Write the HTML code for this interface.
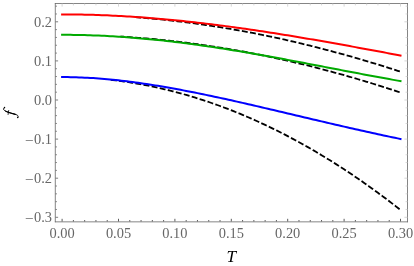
<!DOCTYPE html>
<html><head><meta charset="utf-8"><title>plot</title>
<style>html,body{margin:0;padding:0;background:#fff;}body{width:414px;height:266px;position:relative;overflow:hidden;font-family:"Liberation Serif",serif;}svg{will-change:transform;}svg g.t{filter:grayscale(1);}</style>
</head><body>
<svg width="414" height="266" viewBox="0 0 414 266" style="position:absolute;left:0;top:0">
<rect x="0" y="0" width="414" height="266" fill="#fff"/>
<g fill="none" stroke-width="2" stroke-linecap="square" stroke-linejoin="round">
<path d="M110.04,79.73 L112.86,80.06 L115.68,80.40 L118.50,80.76 L121.32,81.14 L124.14,81.53 L126.96,81.95 L129.78,82.38 L132.60,82.83 L135.42,83.31 L138.24,83.79 L141.06,84.30 L143.88,84.83 L146.70,85.37 L149.52,85.93 L152.34,86.52 L155.16,87.12 L157.98,87.73 L160.80,88.37 L163.62,89.03 L166.44,89.70 L169.26,90.39 L172.08,91.10 L174.90,91.83 L177.72,92.58 L180.54,93.34 L183.36,94.13 L186.18,94.93 L189.00,95.75 L191.82,96.59 L194.64,97.45 L197.46,98.33 L200.28,99.22 L203.10,100.13 L205.92,101.07 L208.74,102.02 L211.56,102.99 L214.38,103.97 L217.20,104.98 L220.02,106.00 L222.84,107.05 L225.66,108.11 L228.48,109.19 L231.30,110.28 L234.12,111.40 L236.94,112.54 L239.76,113.69 L242.58,114.86 L245.40,116.05 L248.22,117.26 L251.04,118.49 L253.86,119.73 L256.68,121.00 L259.50,122.28 L262.32,123.58 L265.14,124.90 L267.96,126.24 L270.78,127.59 L273.60,128.97 L276.42,130.36 L279.24,131.77 L282.06,133.20 L284.88,134.65 L287.70,136.12 L290.52,137.60 L293.34,139.11 L296.16,140.63 L298.98,142.17 L301.80,143.73 L304.62,145.31 L307.44,146.90 L310.26,148.52 L313.08,150.15 L315.90,151.80 L318.72,153.47 L321.54,155.16 L324.36,156.87 L327.18,158.60 L330.00,160.34 L332.82,162.10 L335.64,163.88 L338.46,165.68 L341.28,167.50 L344.10,169.34 L346.92,171.19 L349.74,173.06 L352.56,174.95 L355.38,176.86 L358.20,178.79 L361.02,180.74 L363.84,182.70 L366.66,184.69 L369.48,186.69 L372.30,188.71 L375.12,190.75 L377.94,192.81 L380.76,194.88 L383.58,196.98 L386.40,199.09 L389.22,201.22 L392.04,203.37 L394.86,205.54 L397.68,207.73 L400.50,209.93" stroke="#000" stroke-width="1.8" stroke-dasharray="4.14 4.14" stroke-dashoffset="6.64"/>
<path d="M121.32,36.62 L124.14,36.79 L126.96,36.98 L129.78,37.17 L132.60,37.37 L135.42,37.58 L138.24,37.79 L141.06,38.02 L143.88,38.25 L146.70,38.49 L149.52,38.74 L152.34,39.00 L155.16,39.27 L157.98,39.54 L160.80,39.82 L163.62,40.11 L166.44,40.41 L169.26,40.71 L172.08,41.03 L174.90,41.35 L177.72,41.68 L180.54,42.02 L183.36,42.37 L186.18,42.72 L189.00,43.08 L191.82,43.45 L194.64,43.83 L197.46,44.22 L200.28,44.61 L203.10,45.02 L205.92,45.43 L208.74,45.85 L211.56,46.27 L214.38,46.71 L217.20,47.15 L220.02,47.60 L222.84,48.06 L225.66,48.53 L228.48,49.00 L231.30,49.48 L234.12,49.97 L236.94,50.47 L239.76,50.98 L242.58,51.49 L245.40,52.01 L248.22,52.54 L251.04,53.08 L253.86,53.63 L256.68,54.18 L259.50,54.74 L262.32,55.31 L265.14,55.89 L267.96,56.47 L270.78,57.07 L273.60,57.67 L276.42,58.27 L279.24,58.89 L282.06,59.51 L284.88,60.15 L287.70,60.78 L290.52,61.43 L293.34,62.09 L296.16,62.75 L298.98,63.42 L301.80,64.10 L304.62,64.78 L307.44,65.48 L310.26,66.18 L313.08,66.88 L315.90,67.60 L318.72,68.32 L321.54,69.06 L324.36,69.79 L327.18,70.54 L330.00,71.29 L332.82,72.06 L335.64,72.82 L338.46,73.60 L341.28,74.38 L344.10,75.18 L346.92,75.98 L349.74,76.78 L352.56,77.60 L355.38,78.42 L358.20,79.25 L361.02,80.08 L363.84,80.92 L366.66,81.78 L369.48,82.63 L372.30,83.50 L375.12,84.37 L377.94,85.25 L380.76,86.14 L383.58,87.03 L386.40,87.94 L389.22,88.84 L392.04,89.76 L394.86,90.68 L397.68,91.61 L400.50,92.55" stroke="#000" stroke-width="1.8" stroke-dasharray="4.14 4.14" stroke-dashoffset="1.90"/>
<path d="M135.42,17.17 L138.24,17.39 L141.06,17.61 L143.88,17.85 L146.70,18.09 L149.52,18.34 L152.34,18.60 L155.16,18.87 L157.98,19.14 L160.80,19.42 L163.62,19.71 L166.44,20.01 L169.26,20.32 L172.08,20.64 L174.90,20.96 L177.72,21.29 L180.54,21.63 L183.36,21.98 L186.18,22.33 L189.00,22.70 L191.82,23.07 L194.64,23.45 L197.46,23.83 L200.28,24.23 L203.10,24.63 L205.92,25.04 L208.74,25.46 L211.56,25.89 L214.38,26.33 L217.20,26.77 L220.02,27.22 L222.84,27.68 L225.66,28.14 L228.48,28.62 L231.30,29.10 L234.12,29.59 L236.94,30.09 L239.76,30.59 L242.58,31.11 L245.40,31.63 L248.22,32.16 L251.04,32.69 L253.86,33.24 L256.68,33.79 L259.50,34.35 L262.32,34.92 L265.14,35.49 L267.96,36.08 L270.78,36.67 L273.60,37.26 L276.42,37.87 L279.24,38.48 L282.06,39.10 L284.88,39.73 L287.70,40.37 L290.52,41.01 L293.34,41.66 L296.16,42.32 L298.98,42.98 L301.80,43.65 L304.62,44.33 L307.44,45.02 L310.26,45.72 L313.08,46.42 L315.90,47.13 L318.72,47.84 L321.54,48.57 L324.36,49.30 L327.18,50.04 L330.00,50.78 L332.82,51.54 L335.64,52.30 L338.46,53.06 L341.28,53.84 L344.10,54.62 L346.92,55.41 L349.74,56.20 L352.56,57.00 L355.38,57.81 L358.20,58.63 L361.02,59.45 L363.84,60.28 L366.66,61.12 L369.48,61.96 L372.30,62.81 L375.12,63.67 L377.94,64.53 L380.76,65.40 L383.58,66.28 L386.40,67.16 L389.22,68.05 L392.04,68.95 L394.86,69.86 L397.68,70.77 L400.50,71.68" stroke="#000" stroke-width="1.8" stroke-dasharray="4.14 4.14" stroke-dashoffset="7.65"/>
<path d="M62.10,77.07 L64.92,77.08 L67.74,77.10 L70.56,77.15 L73.38,77.21 L76.20,77.29 L79.02,77.39 L81.84,77.50 L84.66,77.63 L87.48,77.78 L90.30,77.94 L93.12,78.12 L95.94,78.31 L98.76,78.52 L101.58,78.74 L104.40,78.98 L107.22,79.23 L110.04,79.49 L112.86,79.77 L115.68,80.06 L118.50,80.36 L121.32,80.68 L124.14,81.01 L126.96,81.35 L129.78,81.71 L132.60,82.07 L135.42,82.45 L138.24,82.84 L141.06,83.23 L143.88,83.64 L146.70,84.06 L149.52,84.49 L152.34,84.93 L155.16,85.38 L157.98,85.84 L160.80,86.31 L163.62,86.79 L166.44,87.28 L169.26,87.77 L172.08,88.27 L174.90,88.78 L177.72,89.30 L180.54,89.83 L183.36,90.36 L186.18,90.90 L189.00,91.45 L191.82,92.00 L194.64,92.57 L197.46,93.13 L200.28,93.71 L203.10,94.29 L205.92,94.87 L208.74,95.46 L211.56,96.06 L214.38,96.66 L217.20,97.26 L220.02,97.87 L222.84,98.49 L225.66,99.10 L228.48,99.73 L231.30,100.35 L234.12,100.98 L236.94,101.62 L239.76,102.25 L242.58,102.89 L245.40,103.54 L248.22,104.18 L251.04,104.83 L253.86,105.48 L256.68,106.13 L259.50,106.79 L262.32,107.45 L265.14,108.11 L267.96,108.77 L270.78,109.43 L273.60,110.09 L276.42,110.75 L279.24,111.42 L282.06,112.08 L284.88,112.75 L287.70,113.42 L290.52,114.08 L293.34,114.75 L296.16,115.42 L298.98,116.09 L301.80,116.75 L304.62,117.42 L307.44,118.09 L310.26,118.75 L313.08,119.41 L315.90,120.08 L318.72,120.74 L321.54,121.40 L324.36,122.06 L327.18,122.72 L330.00,123.38 L332.82,124.03 L335.64,124.69 L338.46,125.34 L341.28,125.99 L344.10,126.63 L346.92,127.28 L349.74,127.92 L352.56,128.56 L355.38,129.20 L358.20,129.84 L361.02,130.47 L363.84,131.10 L366.66,131.72 L369.48,132.35 L372.30,132.97 L375.12,133.58 L377.94,134.20 L380.76,134.81 L383.58,135.41 L386.40,136.02 L389.22,136.62 L392.04,137.21 L394.86,137.81 L397.68,138.39 L400.50,138.98" stroke="#0000ff"/>
<path d="M62.10,34.81 L64.92,34.82 L67.74,34.83 L70.56,34.85 L73.38,34.89 L76.20,34.93 L79.02,34.98 L81.84,35.04 L84.66,35.11 L87.48,35.19 L90.30,35.28 L93.12,35.38 L95.94,35.49 L98.76,35.60 L101.58,35.73 L104.40,35.86 L107.22,36.00 L110.04,36.16 L112.86,36.32 L115.68,36.49 L118.50,36.66 L121.32,36.85 L124.14,37.05 L126.96,37.25 L129.78,37.46 L132.60,37.68 L135.42,37.91 L138.24,38.15 L141.06,38.39 L143.88,38.65 L146.70,38.91 L149.52,39.18 L152.34,39.45 L155.16,39.74 L157.98,40.03 L160.80,40.33 L163.62,40.63 L166.44,40.95 L169.26,41.27 L172.08,41.60 L174.90,41.93 L177.72,42.27 L180.54,42.62 L183.36,42.98 L186.18,43.34 L189.00,43.71 L191.82,44.08 L194.64,44.47 L197.46,44.85 L200.28,45.25 L203.10,45.65 L205.92,46.05 L208.74,46.47 L211.56,46.88 L214.38,47.31 L217.20,47.74 L220.02,48.17 L222.84,48.61 L225.66,49.05 L228.48,49.50 L231.30,49.96 L234.12,50.42 L236.94,50.88 L239.76,51.35 L242.58,51.82 L245.40,52.30 L248.22,52.78 L251.04,53.26 L253.86,53.75 L256.68,54.24 L259.50,54.74 L262.32,55.24 L265.14,55.74 L267.96,56.25 L270.78,56.76 L273.60,57.27 L276.42,57.79 L279.24,58.31 L282.06,58.83 L284.88,59.35 L287.70,59.88 L290.52,60.41 L293.34,60.94 L296.16,61.47 L298.98,62.00 L301.80,62.54 L304.62,63.07 L307.44,63.61 L310.26,64.15 L313.08,64.69 L315.90,65.23 L318.72,65.77 L321.54,66.32 L324.36,66.86 L327.18,67.40 L330.00,67.94 L332.82,68.49 L335.64,69.03 L338.46,69.57 L341.28,70.12 L344.10,70.66 L346.92,71.20 L349.74,71.74 L352.56,72.28 L355.38,72.81 L358.20,73.35 L361.02,73.88 L363.84,74.42 L366.66,74.95 L369.48,75.48 L372.30,76.00 L375.12,76.53 L377.94,77.05 L380.76,77.57 L383.58,78.08 L386.40,78.60 L389.22,79.10 L392.04,79.61 L394.86,80.11 L397.68,80.61 L400.50,81.11" stroke="#00aa00"/>
<path d="M62.10,14.39 L64.92,14.39 L67.74,14.40 L70.56,14.42 L73.38,14.45 L76.20,14.49 L79.02,14.53 L81.84,14.58 L84.66,14.64 L87.48,14.70 L90.30,14.78 L93.12,14.86 L95.94,14.95 L98.76,15.04 L101.58,15.14 L104.40,15.25 L107.22,15.37 L110.04,15.50 L112.86,15.63 L115.68,15.77 L118.50,15.91 L121.32,16.07 L124.14,16.23 L126.96,16.39 L129.78,16.57 L132.60,16.75 L135.42,16.94 L138.24,17.13 L141.06,17.33 L143.88,17.54 L146.70,17.75 L149.52,17.97 L152.34,18.20 L155.16,18.43 L157.98,18.67 L160.80,18.92 L163.62,19.17 L166.44,19.42 L169.26,19.69 L172.08,19.96 L174.90,20.23 L177.72,20.51 L180.54,20.80 L183.36,21.09 L186.18,21.39 L189.00,21.70 L191.82,22.00 L194.64,22.32 L197.46,22.64 L200.28,22.97 L203.10,23.30 L205.92,23.63 L208.74,23.97 L211.56,24.32 L214.38,24.67 L217.20,25.03 L220.02,25.39 L222.84,25.75 L225.66,26.13 L228.48,26.50 L231.30,26.88 L234.12,27.27 L236.94,27.65 L239.76,28.05 L242.58,28.45 L245.40,28.85 L248.22,29.25 L251.04,29.67 L253.86,30.08 L256.68,30.50 L259.50,30.92 L262.32,31.35 L265.14,31.78 L267.96,32.21 L270.78,32.65 L273.60,33.09 L276.42,33.54 L279.24,33.98 L282.06,34.43 L284.88,34.89 L287.70,35.35 L290.52,35.81 L293.34,36.27 L296.16,36.74 L298.98,37.21 L301.80,37.68 L304.62,38.16 L307.44,38.64 L310.26,39.12 L313.08,39.61 L315.90,40.09 L318.72,40.58 L321.54,41.07 L324.36,41.57 L327.18,42.06 L330.00,42.56 L332.82,43.06 L335.64,43.56 L338.46,44.07 L341.28,44.57 L344.10,45.08 L346.92,45.59 L349.74,46.10 L352.56,46.62 L355.38,47.13 L358.20,47.65 L361.02,48.17 L363.84,48.68 L366.66,49.20 L369.48,49.72 L372.30,50.25 L375.12,50.77 L377.94,51.29 L380.76,51.82 L383.58,52.34 L386.40,52.87 L389.22,53.40 L392.04,53.92 L394.86,54.45 L397.68,54.98 L400.50,55.51" stroke="#ff0000"/>
</g>
<g fill="none" stroke-width="0.8" stroke="#666">
<path d="M55.3,3.1 V222.25"/>
<path d="M54.9,221.85 H407.9"/>
<path d="M54.9,3.5 H407.9"/>
<path d="M407.5,3.1 V222.25"/>
</g>
<path d="M62.10,3.5 v3.10 M73.38,3.5 v1.90 M84.66,3.5 v1.90 M95.94,3.5 v1.90 M107.22,3.5 v1.90 M118.50,3.5 v3.10 M129.78,3.5 v1.90 M141.06,3.5 v1.90 M152.34,3.5 v1.90 M163.62,3.5 v1.90 M174.90,3.5 v3.10 M186.18,3.5 v1.90 M197.46,3.5 v1.90 M208.74,3.5 v1.90 M220.02,3.5 v1.90 M231.30,3.5 v3.10 M242.58,3.5 v1.90 M253.86,3.5 v1.90 M265.14,3.5 v1.90 M276.42,3.5 v1.90 M287.70,3.5 v3.10 M298.98,3.5 v1.90 M310.26,3.5 v1.90 M321.54,3.5 v1.90 M332.82,3.5 v1.90 M344.10,3.5 v3.10 M355.38,3.5 v1.90 M366.66,3.5 v1.90 M377.94,3.5 v1.90 M389.22,3.5 v1.90 M400.50,3.5 v3.10 M407.5,217.30 h-3.10 M407.5,209.48 h-1.90 M407.5,201.66 h-1.90 M407.5,193.84 h-1.90 M407.5,186.02 h-1.90 M407.5,178.20 h-3.10 M407.5,170.38 h-1.90 M407.5,162.56 h-1.90 M407.5,154.74 h-1.90 M407.5,146.92 h-1.90 M407.5,139.10 h-3.10 M407.5,131.28 h-1.90 M407.5,123.46 h-1.90 M407.5,115.64 h-1.90 M407.5,107.82 h-1.90 M407.5,100.00 h-3.10 M407.5,92.18 h-1.90 M407.5,84.36 h-1.90 M407.5,76.54 h-1.90 M407.5,68.72 h-1.90 M407.5,60.90 h-3.10 M407.5,53.08 h-1.90 M407.5,45.26 h-1.90 M407.5,37.44 h-1.90 M407.5,29.62 h-1.90 M407.5,21.80 h-3.10 M407.5,13.98 h-1.90 M407.5,6.16 h-1.90" stroke="#cccccc" stroke-width="0.8" fill="none"/>
<path d="M62.10,221.5 V218.80 M73.38,221.5 V220.00 M84.66,221.5 V220.00 M95.94,221.5 V220.00 M107.22,221.5 V220.00 M118.50,221.5 V218.80 M129.78,221.5 V220.00 M141.06,221.5 V220.00 M152.34,221.5 V220.00 M163.62,221.5 V220.00 M174.90,221.5 V218.80 M186.18,221.5 V220.00 M197.46,221.5 V220.00 M208.74,221.5 V220.00 M220.02,221.5 V220.00 M231.30,221.5 V218.80 M242.58,221.5 V220.00 M253.86,221.5 V220.00 M265.14,221.5 V220.00 M276.42,221.5 V220.00 M287.70,221.5 V218.80 M298.98,221.5 V220.00 M310.26,221.5 V220.00 M321.54,221.5 V220.00 M332.82,221.5 V220.00 M344.10,221.5 V218.80 M355.38,221.5 V220.00 M366.66,221.5 V220.00 M377.94,221.5 V220.00 M389.22,221.5 V220.00 M400.50,221.5 V218.80" stroke="#5c5c5c" stroke-width="1" fill="none"/>
<path d="M55.3,217.30 H58.10 M55.3,209.48 H56.90 M55.3,201.66 H56.90 M55.3,193.84 H56.90 M55.3,186.02 H56.90 M55.3,178.20 H58.10 M55.3,170.38 H56.90 M55.3,162.56 H56.90 M55.3,154.74 H56.90 M55.3,146.92 H56.90 M55.3,139.10 H58.10 M55.3,131.28 H56.90 M55.3,123.46 H56.90 M55.3,115.64 H56.90 M55.3,107.82 H56.90 M55.3,100.00 H58.10 M55.3,92.18 H56.90 M55.3,84.36 H56.90 M55.3,76.54 H56.90 M55.3,68.72 H56.90 M55.3,60.90 H58.10 M55.3,53.08 H56.90 M55.3,45.26 H56.90 M55.3,37.44 H56.90 M55.3,29.62 H56.90 M55.3,21.80 H58.10 M55.3,13.98 H56.90 M55.3,6.16 H56.90" stroke="#727272" stroke-width="0.9" fill="none"/>
<g class="t" font-family="Liberation Serif, serif" font-size="14.4" fill="#666666">
<text x="62.10" y="237.8" text-anchor="middle">0.00</text>
<text x="118.50" y="237.8" text-anchor="middle">0.05</text>
<text x="174.90" y="237.8" text-anchor="middle">0.10</text>
<text x="231.30" y="237.8" text-anchor="middle">0.15</text>
<text x="287.70" y="237.8" text-anchor="middle">0.20</text>
<text x="344.10" y="237.8" text-anchor="middle">0.25</text>
<text x="400.50" y="237.8" text-anchor="middle">0.30</text>
<text x="52.0" y="26.60" text-anchor="end">0.2</text>
<text x="52.0" y="65.70" text-anchor="end">0.1</text>
<text x="52.0" y="104.80" text-anchor="end">0.0</text>
<text x="52.0" y="143.90" text-anchor="end">0.1</text>
<text transform="translate(33.4,144.80) scale(1.07,1)" text-anchor="end">−</text>
<text x="52.0" y="183.00" text-anchor="end">0.2</text>
<text transform="translate(33.4,183.90) scale(1.07,1)" text-anchor="end">−</text>
<text x="52.0" y="222.10" text-anchor="end">0.3</text>
<text transform="translate(33.4,223.00) scale(1.07,1)" text-anchor="end">−</text>
</g>
<g class="t" font-family="Liberation Serif, serif" font-size="16" font-style="italic" fill="#000">
<text transform="translate(231.2,261.5) scale(1.08,1)" text-anchor="middle">T</text>
</g>
<g role="img" aria-label="f" fill="none" stroke="#000" stroke-linecap="round" stroke-linejoin="round"><title>f</title>
<path d="M4.6,107.7 C3.3,108.1 2.9,109.3 4.2,110.2 C5.3,111.0 6.8,111.7 8.3,112.3 C11,113.3 13.8,113.9 16.2,114.6 C17.6,115.1 18.6,116.0 18.1,117.2" stroke-width="0.95"/>
<path d="M5.8,111.2 C7,111.8 8,112.2 9,112.5 C11.4,113.4 13.6,113.9 15.2,114.3" stroke-width="1.25"/>
<path d="M8.7,110.5 L8.1,114.5" stroke-width="0.8"/>
<circle cx="4.5" cy="107.6" r="0.75" fill="#000" stroke="none"/>
<circle cx="17.7" cy="117.5" r="0.75" fill="#000" stroke="none"/>
</g>
</svg>
</body></html>
